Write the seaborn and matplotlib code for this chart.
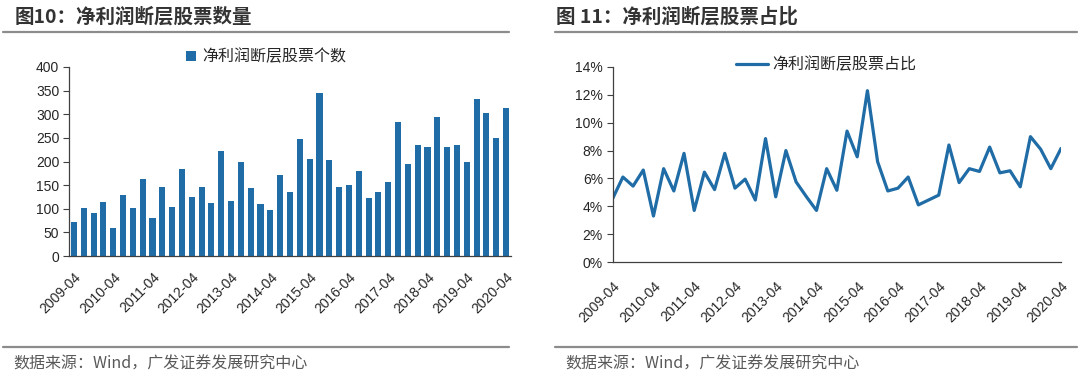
import numpy as np
import pandas as pd
import matplotlib
matplotlib.use('Agg')
import matplotlib.pyplot as plt
from matplotlib.lines import Line2D
from matplotlib.ticker import PercentFormatter
import seaborn as sns

# quarterly data, 2009-04 .. 2020-04
quarters = pd.date_range('2009-04-01', periods=45, freq='QS').strftime('%Y-%m')
year_labels = ['2009-04', '2010-04', '2011-04', '2012-04', '2013-04', '2014-04',
               '2015-04', '2016-04', '2017-04', '2018-04', '2019-04', '2020-04']

# number of stocks with net-profit gap
counts = [71, 101, 90, 114, 59, 129, 101, 164, 81, 147,
          104, 184, 125, 147, 113, 222, 116, 199, 144, 110,
          97, 172, 135, 247, 206, 344, 204, 146, 150, 180,
          122, 135, 156, 283, 195, 234, 230, 295, 230, 235,
          198, 332, 302, 250, 314]

# share of stocks with net-profit gap (%)
ratio = [4.56, 6.1, 5.45, 6.6, 3.3, 6.7, 5.1, 7.8, 3.7, 6.45,
         5.2, 7.8, 5.3, 5.95, 4.45, 8.86, 4.68, 8.0, 5.75, 4.7,
         3.7, 6.7, 5.15, 9.4, 7.55, 12.3, 7.2, 5.1, 5.3, 6.1,
         4.1, 4.45, 4.8, 8.4, 5.7, 6.7, 6.5, 8.25, 6.4, 6.55,
         5.4, 9.0, 8.1, 6.7, 8.15]

df_count = pd.DataFrame({'quarter': quarters, 'count': counts})
df_ratio = pd.DataFrame({'idx': np.arange(len(ratio)), 'ratio': ratio})

sns.set_style('white')
plt.rcParams['font.family'] = ['Noto Sans CJK SC', 'DejaVu Sans']
cjk = ['Noto Sans CJK SC', 'DejaVu Sans']
num_font = 'Liberation Sans'
blue = '#1f6ca6'
spine_c = '#404040'
tick_c = '#262626'

fig = plt.figure(figsize=(10.8, 3.76), dpi=100)
W, H = 1080, 376
ax1 = fig.add_axes([69 / W, 120 / H, 442 / W, 189 / H])
ax2 = fig.add_axes([612.7 / W, 114 / H, 448.3 / W, 195 / H])

# ---- left: bar chart
sns.barplot(data=df_count, x='quarter', y='count', color=blue, width=0.62,
            linewidth=0, saturation=1, ax=ax1, label='净利润断层股票个数')
ax1.set_xlim(-0.5, 44.5)
ax1.set_ylim(0, 400)
ax1.set_yticks(range(0, 401, 50))
ax1.set_xticks(range(0, 45, 4))
ax1.set_xticklabels(year_labels, rotation=45, ha='right', va='top',
                    rotation_mode='anchor')
ax1.set_xticks(np.arange(-0.5, 44.6, 3), minor=True)
ax1.tick_params(axis='x', which='major', length=0, pad=10)
ax1.tick_params(axis='x', which='minor', length=4, width=0.8, color=spine_c,
                direction='out')

# ---- right: line chart
sns.lineplot(data=df_ratio, x='idx', y='ratio', color=blue, linewidth=2.3,
             ax=ax2, label='净利润断层股票占比')
ax2.set_xlim(0, 44)
ax2.set_ylim(0, 14)
ax2.set_yticks(range(0, 15, 2))
ax2.yaxis.set_major_formatter(PercentFormatter(xmax=100, decimals=0))
ax2.set_xticks(range(0, 45, 4))
ax2.set_xticklabels(year_labels, rotation=45, ha='right', va='top',
                    rotation_mode='anchor')
ax2.tick_params(axis='x', which='major', length=4, width=0.8, color=spine_c,
                direction='out', pad=8)

for ax in (ax1, ax2):
    sns.despine(ax=ax)
    ax.set_xlabel('')
    ax.set_ylabel('')
    for s in ('left', 'bottom'):
        ax.spines[s].set_color(spine_c)
        ax.spines[s].set_linewidth(0.9)
    ax.tick_params(axis='y', length=4, width=0.8, color=spine_c,
                   direction='out', pad=3, left=True)
    ax.tick_params(labelcolor=tick_c)
    for lab in ax.get_xticklabels() + ax.get_yticklabels():
        lab.set_fontfamily(num_font)
        lab.set_fontsize(10)

# legends
leg1 = ax1.legend(loc='center', bbox_to_anchor=(266 / W, 1 - 57 / H),
                  bbox_transform=fig.transFigure, frameon=False,
                  prop={'family': cjk, 'size': 11.5},
                  handlelength=0.6, handleheight=0.6, handletextpad=0.4)
leg2 = ax2.legend(loc='center', bbox_to_anchor=(826 / W, 1 - 65 / H),
                  bbox_transform=fig.transFigure, frameon=False,
                  prop={'family': cjk, 'size': 11.5},
                  handlelength=2.0, handletextpad=0.3)

# titles, rules and source notes
line_c = '#8c8c8c'
for x0, x1 in ((3, 509), (555, 1077)):
    fig.add_artist(Line2D([x0 / W, x1 / W], [1 - 32 / H] * 2, color=line_c, lw=1.6))
    fig.add_artist(Line2D([x0 / W, x1 / W], [1 - 347 / H] * 2, color=line_c, lw=1.6))

fig.text(15 / W, 1 - 17 / H, '图10：净利润断层股票数量', fontsize=14,
         fontweight='bold', color='#333333', va='center', family=cjk)
fig.text(556 / W, 1 - 17 / H, '图 11：净利润断层股票占比', fontsize=14,
         fontweight='bold', color='#333333', va='center', family=cjk)
fig.text(13 / W, 1 - 364 / H, '数据来源：Wind，广发证券发展研究中心', fontsize=11.5,
         color='#595959', va='center', family=cjk)
fig.text(565 / W, 1 - 364 / H, '数据来源：Wind，广发证券发展研究中心', fontsize=11.5,
         color='#595959', va='center', family=cjk)

fig.savefig('out.png', dpi=100)
